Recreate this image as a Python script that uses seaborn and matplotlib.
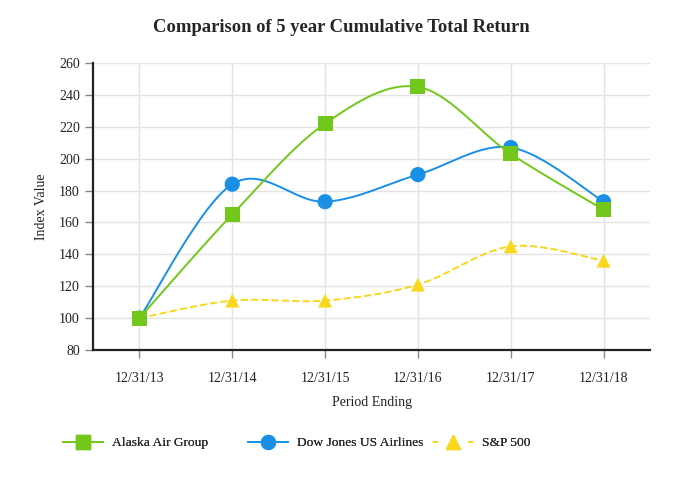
import numpy as np
import pandas as pd
import matplotlib
matplotlib.use("Agg")
import matplotlib.pyplot as plt
import seaborn as sns
from matplotlib.lines import Line2D

periods = ["12/31/13", "12/31/14", "12/31/15", "12/31/16", "12/31/17", "12/31/18"]
alaska = [100, 165, 222, 245, 203, 168]
dow_jones = [100, 184, 173, 190, 207, 173]
sp500 = [100, 111, 111, 121, 145, 136]

series_names = ["Alaska Air Group", "Dow Jones US Airlines", "S&P 500"]
colors = {"Alaska Air Group": "#72c81a", "Dow Jones US Airlines": "#1a8fe6", "S&P 500": "#f8d71c"}
markers = {"Alaska Air Group": "s", "Dow Jones US Airlines": "o", "S&P 500": "^"}
dashes = {"Alaska Air Group": "-", "Dow Jones US Airlines": "-", "S&P 500": "--"}
msize = {"Alaska Air Group": 115, "Dow Jones US Airlines": 120, "S&P 500": 100}


def smooth(xs, ys, steps=30, tension=0.5):
    # catmull-rom style curve through the points, only for drawing the line
    xs = np.asarray(xs, float)
    ys = np.asarray(ys, float)
    px = np.concatenate([[xs[0]], xs, [xs[-1]]])
    py = np.concatenate([[ys[0]], ys, [ys[-1]]])
    out_x, out_y = [], []
    for i in range(1, len(px) - 2):
        t = np.linspace(0, 1, steps)
        m1x = tension * (px[i + 1] - px[i - 1])
        m2x = tension * (px[i + 2] - px[i])
        m1y = tension * (py[i + 1] - py[i - 1])
        m2y = tension * (py[i + 2] - py[i])
        h00 = 2 * t**3 - 3 * t**2 + 1
        h10 = t**3 - 2 * t**2 + t
        h01 = -2 * t**3 + 3 * t**2
        h11 = t**3 - t**2
        out_x.append(h00 * px[i] + h10 * m1x + h01 * px[i + 1] + h11 * m2x)
        out_y.append(h00 * py[i] + h10 * m1y + h01 * py[i + 1] + h11 * m2y)
    return np.concatenate(out_x), np.concatenate(out_y)


df = pd.DataFrame({
    "x": list(range(len(periods))) * 3,
    "value": alaska + dow_jones + sp500,
    "series": [n for n in series_names for _ in periods],
})

sns.set_theme(style="white")
plt.rcParams["font.family"] = ["Liberation Serif", "DejaVu Serif"]

fig = plt.figure(figsize=(6.82, 4.8), dpi=100)
ax = fig.add_axes([93 / 682, 1 - 350 / 480, (650 - 93) / 682, (350 - 63) / 480])

# draw S&P first, Alaska last so it sits on top like in the original
for z, name in enumerate(reversed(series_names)):
    sub = df[df["series"] == name]
    cx, cy = smooth(sub["x"], sub["value"])
    ax.plot(cx, cy, color=colors[name], lw=1.4, ls=dashes[name], zorder=3 + 2 * z)
    sns.scatterplot(data=sub, x="x", y="value", color=colors[name], marker=markers[name],
                    s=msize[name], edgecolor="none", legend=False, ax=ax, zorder=4 + 2 * z)

ax.set_xlim(-0.5, 5.5)
ax.set_ylim(80, 260)
ax.set_yticks(range(80, 261, 20))
ax.set_xticks(range(len(periods)))
ax.set_xticklabels(periods)
ax.grid(True, color="#e3e3e3", lw=1)
ax.set_axisbelow(True)
for side in ["top", "right"]:
    ax.spines[side].set_visible(False)
for side in ["left", "bottom"]:
    ax.spines[side].set_color("#222222")
    ax.spines[side].set_linewidth(1.6)
ax.tick_params(axis="both", direction="out", length=6, width=1, color="#888888",
               labelsize=10, labelcolor="#222222", left=True, bottom=True)
ax.tick_params(axis="x", pad=10)
ax.set_xlabel("Period Ending", fontsize=10, color="#222222", labelpad=8)
ax.set_ylabel("Index Value", fontsize=10, color="#222222", labelpad=8)

fig.suptitle("Comparison of 5 year Cumulative Total Return", y=1 - 27 / 480,
             fontsize=13.4, fontweight="bold", va="center")

# one legend per entry so the spacing matches the original
legend_x = [63, 248, 433]
for name, lx in zip(series_names, legend_x):
    h = Line2D([0], [0], color=colors[name], ls=dashes[name], marker=markers[name],
               markersize=10, lw=1.4)
    if dashes[name] == "--":
        h.set_dashes((2.6, 15.4))
    leg = fig.legend([h], [name], loc="center left", bbox_to_anchor=(lx / 682, 1 - 443 / 480),
                     frameon=False, fontsize=9.7, handlelength=2.95, handletextpad=0.7,
                     borderpad=0, borderaxespad=0)
    fig.add_artist(leg)

fig.savefig("out.png", dpi=100)
